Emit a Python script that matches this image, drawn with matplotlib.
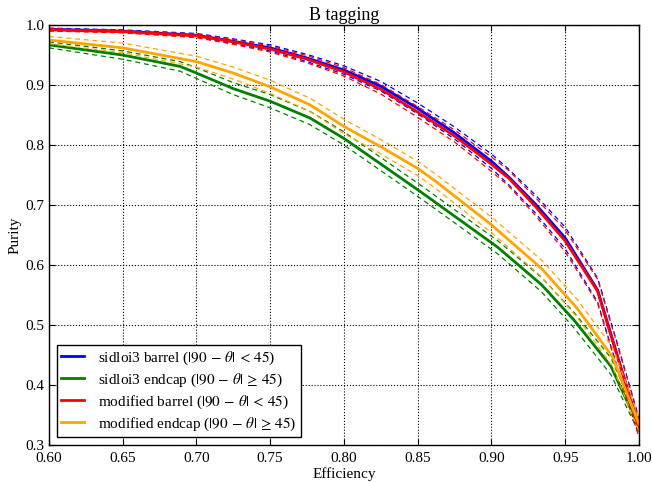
"""
B tagging purity vs efficiency, barrel/endcap for two detector versions.
"""
import matplotlib
matplotlib.use("Agg")
from matplotlib import pyplot as plt


# efficiency nodes and purity (solid) with +- error (dashed)
BARREL_EFF = [0.60, 0.65, 0.70, 0.725, 0.75, 0.775, 0.80, 0.825, 0.85,
              0.875, 0.90, 0.912, 0.93, 0.95, 0.972, 0.985, 1.0]
SID_BARREL_PUR = [0.993, 0.990, 0.983, 0.973, 0.962, 0.945, 0.925, 0.898, 0.861,
                  0.820, 0.773, 0.746, 0.701, 0.645, 0.558, 0.452, 0.330]
MOD_BARREL_PUR = [0.992, 0.989, 0.982, 0.972, 0.960, 0.943, 0.922, 0.893, 0.855,
                  0.815, 0.768, 0.744, 0.697, 0.640, 0.556, 0.450, 0.328]
SID_BARREL_ERR = [0.002, 0.002, 0.003, 0.004, 0.005, 0.006, 0.007, 0.008, 0.009,
                  0.010, 0.012, 0.013, 0.015, 0.018, 0.020, 0.020, 0.015]
MOD_BARREL_ERR = [0.002, 0.002, 0.003, 0.004, 0.005, 0.006, 0.007, 0.008, 0.009,
                  0.010, 0.012, 0.013, 0.015, 0.018, 0.020, 0.020, 0.015]

SID_ENDCAP_EFF = [0.60, 0.65, 0.689, 0.70, 0.725, 0.75, 0.777, 0.80, 0.831,
                  0.852, 0.904, 0.934, 0.956, 0.981, 1.0]
SID_ENDCAP_PUR = [0.967, 0.950, 0.931, 0.920, 0.894, 0.873, 0.845, 0.811, 0.758,
                  0.722, 0.630, 0.567, 0.508, 0.431, 0.330]
SID_ENDCAP_ERR = [0.005, 0.007, 0.008, 0.009, 0.010, 0.011, 0.011, 0.011, 0.011,
                  0.011, 0.011, 0.012, 0.013, 0.014, 0.010]

MOD_ENDCAP_EFF = [0.60, 0.65, 0.70, 0.725, 0.75, 0.777, 0.80, 0.825, 0.85,
                  0.863, 0.90, 0.934, 0.958, 0.982, 1.0]
MOD_ENDCAP_PUR = [0.975, 0.962, 0.939, 0.920, 0.897, 0.867, 0.831, 0.797, 0.761,
                  0.738, 0.667, 0.594, 0.528, 0.447, 0.335]
MOD_ENDCAP_ERR = [0.006, 0.008, 0.009, 0.010, 0.011, 0.011, 0.012, 0.012, 0.012,
                  0.012, 0.013, 0.014, 0.015, 0.016, 0.012]

LABELS = [
    r"sidloi3 barrel ($|90\,-\,\theta|\,<\,45$)",
    r"sidloi3 endcap ($|90\,-\,\theta|\,\geq\,45$)",
    r"modified barrel ($|90\,-\,\theta|\,<\,45$)",
    r"modified endcap ($|90\,-\,\theta|\,\geq\,45$)",
]
XTICKS = [0.60, 0.65, 0.70, 0.75, 0.80, 0.85, 0.90, 0.95, 1.00]
YTICKS = [0.3, 0.4, 0.5, 0.6, 0.7, 0.8, 0.9, 1.0]


if __name__ == "__main__":
    plt.rcParams.update({
        "font.family": ["Liberation Serif", "DejaVu Serif"],
        "mathtext.fontset": "stix",
        "xtick.direction": "in",
        "ytick.direction": "in",
        "xtick.top": True,
        "ytick.right": True,
        "xtick.major.size": 4,
        "ytick.major.size": 4,
        "axes.linewidth": 1.0,
    })
    fig = plt.figure(figsize=(6.52, 4.82), dpi=100)
    axes = fig.add_axes([0.075, 0.077, 0.905, 0.871])

    curves = [
        (BARREL_EFF, SID_BARREL_PUR, SID_BARREL_ERR, "#0000ff"),
        (SID_ENDCAP_EFF, SID_ENDCAP_PUR, SID_ENDCAP_ERR, "#008000"),
        (BARREL_EFF, MOD_BARREL_PUR, MOD_BARREL_ERR, "#ff0000"),
        (MOD_ENDCAP_EFF, MOD_ENDCAP_PUR, MOD_ENDCAP_ERR, "#ffa500"),
    ]
    for (eff, pur, err, color), label in zip(curves, LABELS):
        axes.plot(eff, pur, color=color, lw=2, label=label)
        upper = [p + e for p, e in zip(pur, err)]
        lower = [p - e for p, e in zip(pur, err)]
        for band in (upper, lower):
            axes.plot(eff, band, color=color, lw=0.9, dashes=(4, 3))

    axes.set_xlim(0.6, 1.0)
    axes.set_ylim(0.3, 1.0)
    axes.set_xticks(XTICKS)
    axes.set_xticklabels([f"{x:.2f}" for x in XTICKS])
    axes.set_yticks(YTICKS)
    axes.set_yticklabels([f"{y:.1f}" for y in YTICKS])
    axes.tick_params(axis="x", labelsize=11, pad=5)
    axes.tick_params(axis="y", labelsize=11, pad=3)
    axes.grid(True, color="black", linestyle=":", linewidth=0.8)
    axes.set_xlabel("Efficiency", fontsize=11, labelpad=2)
    axes.set_ylabel("Purity", fontsize=11, labelpad=3)
    axes.set_title("B tagging", fontsize=13, pad=4)

    leg = axes.legend(loc="lower left", fontsize=11, fancybox=False,
                      framealpha=1, edgecolor="black", handlelength=1.5,
                      handletextpad=0.9, borderpad=0.3, labelspacing=0.3)
    leg.get_frame().set_linewidth(1.0)

    fig.savefig("out.png", dpi=100)
